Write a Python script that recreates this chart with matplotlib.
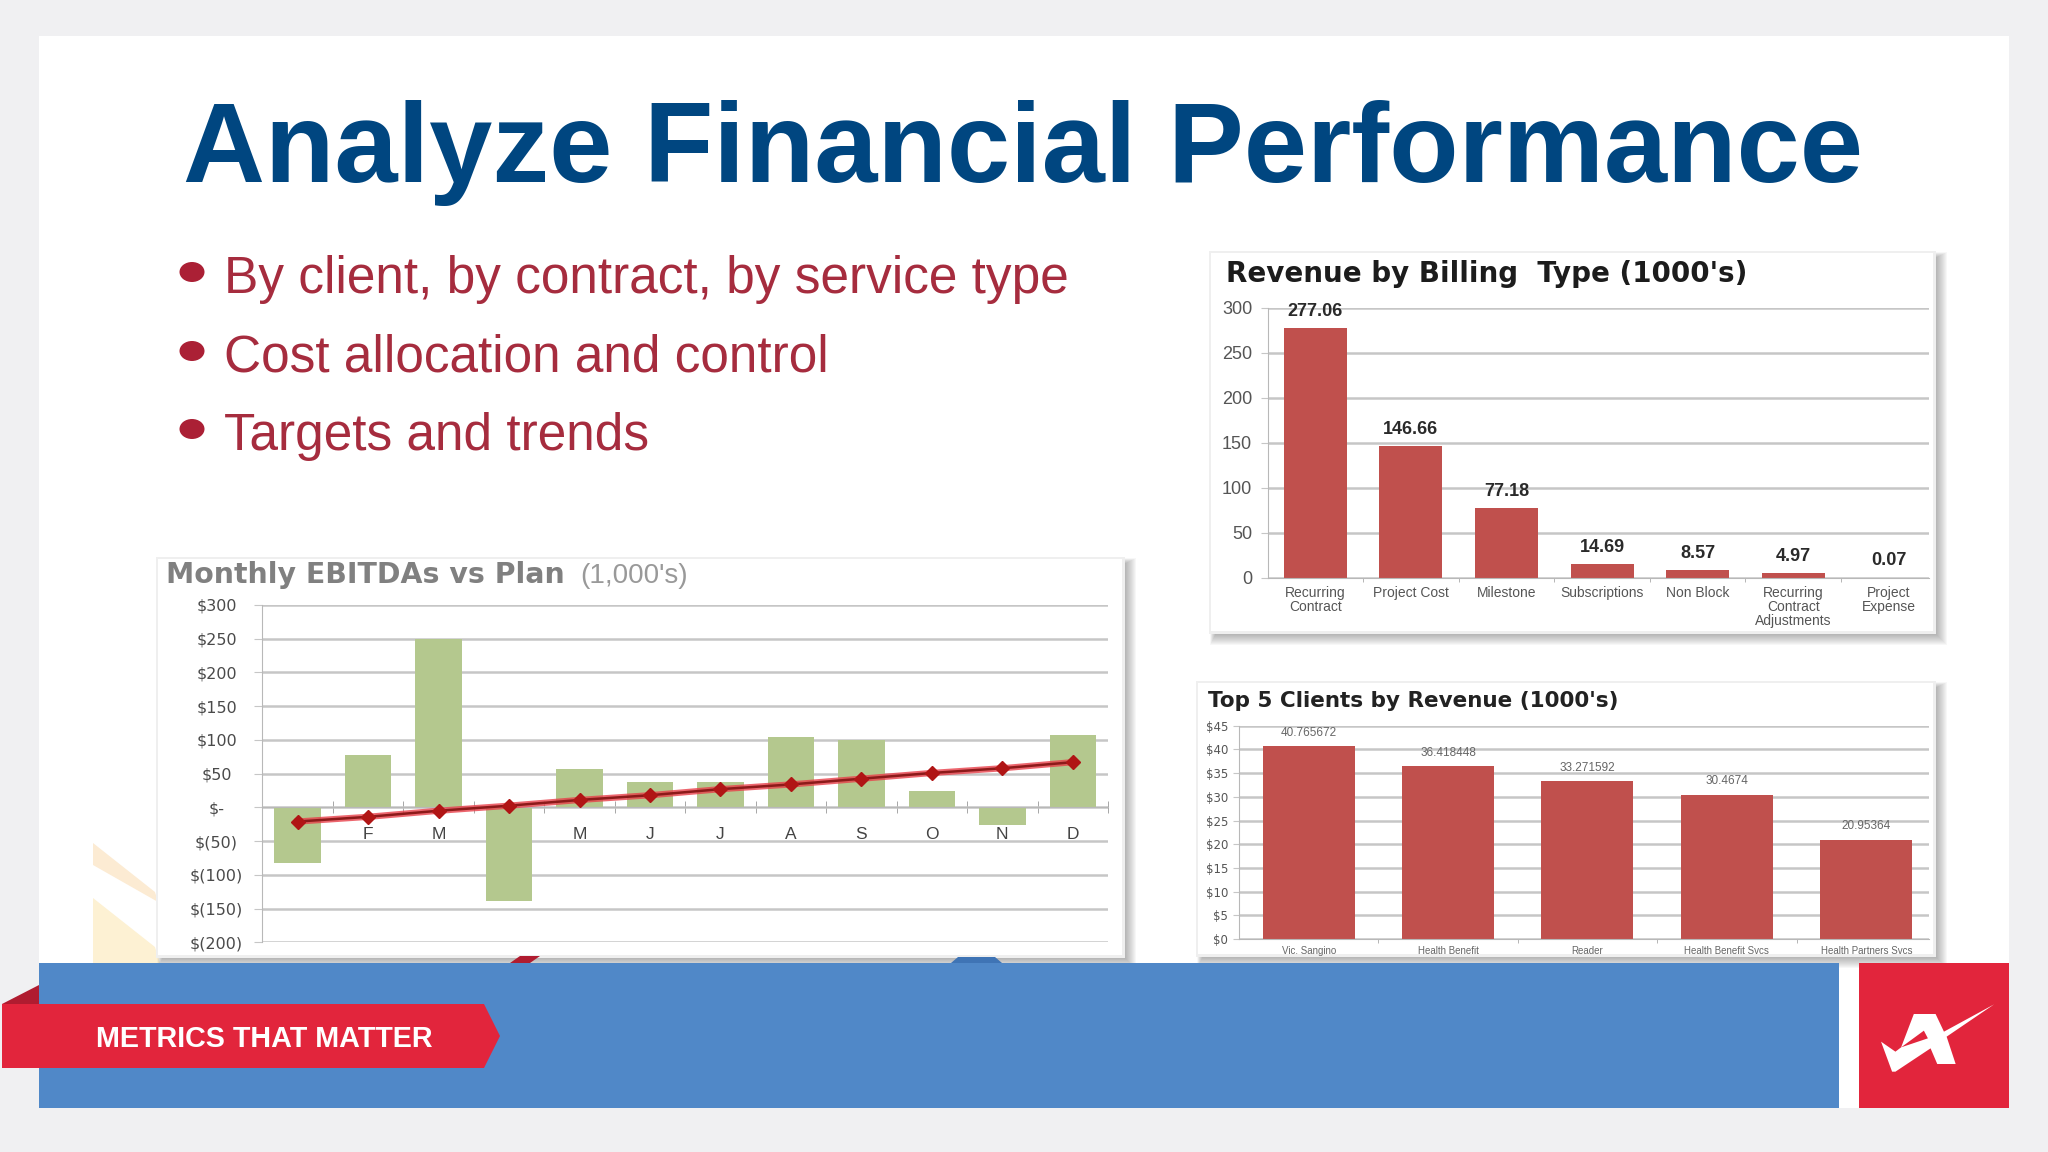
import matplotlib
matplotlib.use("Agg")
import matplotlib.pyplot as plt
from matplotlib.patches import Rectangle, Polygon, Ellipse

W, H = 2048, 1152

months = ["J", "F", "M", "A", "M", "J", "J", "A", "S", "O", "N", "D"]
ebitda = [-82, 77, 249, -139, 57, 37, 37, 104, 100, 24, -26, 107]
plan = [-21, -14, -5, 2.5, 11, 18, 27, 34, 42.5, 51, 58, 67]
ebitda_ticks = [300, 250, 200, 150, 100, 50, 0, -50, -100, -150, -200]
ebitda_labels = ["$300", "$250", "$200", "$150", "$100", "$50", "$-", "$(50)", "$(100)", "$(150)", "$(200)"]

billing_types = ["Recurring\nContract", "Project Cost", "Milestone", "Subscriptions", "Non Block",
                 "Recurring\nContract\nAdjustments", "Project\nExpense"]
billing_rev = [277.06, 146.66, 77.18, 14.69, 8.57, 4.97, 0.07]
billing_ticks = [0, 50, 100, 150, 200, 250, 300]

clients = ["Vic. Sangino", "Health Benefit", "Reader", "Health Benefit Svcs", "Health Partners Svcs"]
client_rev = [40.765672, 36.418448, 33.271592, 30.4674, 20.95364]
client_text = ["40.765672", "36.418448", "33.271592", "30.4674", "20.95364"]
client_ticks = [0, 5, 10, 15, 20, 25, 30, 35, 40, 45]

bullets = ["By client, by contract, by service type", "Cost allocation and control", "Targets and trends"]

SANS = "Liberation Sans"
WIDE = "DejaVu Sans"
GREY_BG = "#f0f0f2"
RED = "#e2253c"
BLUE = "#5088c8"
BAR_RED = "#c0504d"
GRID = "#c6c6c6"

fig = plt.figure(figsize=(W / 100, H / 100), dpi=100, facecolor=GREY_BG)
bg = fig.add_axes([0, 0, 1, 1], zorder=0)
bg.set_xlim(0, W)
bg.set_ylim(H, 0)
bg.axis("off")


def box(x0, y0, x1, y1, color, z=1, **kw):
    bg.add_patch(Rectangle((x0, y0), x1 - x0, y1 - y0, facecolor=color, edgecolor="none", zorder=z, **kw))


def shape(points, color, z=1):
    bg.add_patch(Polygon(points, facecolor=color, edgecolor="none", zorder=z))


def panel(x0, y0, x1, y1):
    # soft shadow, a stack of see-through boxes
    for i in range(13):
        box(x0 + 5 - i // 2, y0 + 5 - i // 2, x1 + i, y1 + i, "#303030", z=2, alpha=0.035)
    box(x0 - 2, y0 - 2, x1 + 1, y1 + 1, "#efefef", z=3)
    box(x0, y0, x1 - 2, y1 - 2, "white", z=3)


def chart_axes(x0, y_top, x1, y_bottom):
    ax = fig.add_axes([x0 / W, 1 - y_bottom / H, (x1 - x0) / W, (y_bottom - y_top) / H], zorder=2)
    ax.patch.set_alpha(0)
    for side in ["top", "right"]:
        ax.spines[side].set_visible(False)
    ax.set_axisbelow(True)
    ax.grid(axis="y", color=GRID, lw=1.8)
    ax.spines["left"].set_color("#b8b8b8")
    ax.spines["bottom"].set_color("#b8b8b8")
    return ax


# page
box(39, 36, 2009, 1108, "white")

# pale stripes behind the ebitda chart
shape([(93, 843), (155, 892), (158, 902), (93, 865)], "#fcebd3")
shape([(93, 898), (155, 947), (160, 963), (93, 963)], "#fdf1d3")

panel(158, 559, 1124, 957)
panel(1211, 253, 1935, 633)
panel(1198, 683, 1935, 956)

# footer band
box(39, 963, 1839, 1108, BLUE, z=5)
shape([(510, 963), (520, 956), (540, 956), (530, 963)], "#b01c30", z=4)
shape([(951, 963), (958, 957), (995, 957), (1002, 963)], "#3f74b5", z=4)
shape([(2, 1004), (39, 985), (39, 1004)], "#b01c30", z=6)
shape([(2, 1004), (484, 1004), (500, 1036), (484, 1068), (2, 1068)], RED, z=6)
bg.text(96, 1047, "METRICS THAT MATTER", color="white", fontsize=20.7, fontweight="bold",
        family=SANS, ha="left", va="baseline", zorder=7)

# logo
box(1859, 963, 2009, 1108, RED, z=5)
lx = lambda v: 1780 + v * 268 / 801
ly = lambda v: 940 + v / 3
logo = [(302, 305), (345, 335), (362, 322), (400, 222), (465, 222), (490, 275), (640, 193), (498, 290),
        (525, 372), (470, 372), (450, 325), (345, 395), (335, 395)]
shape([(lx(a), ly(b)) for a, b in logo], "white", z=6)
notch = [(362, 322), (430, 272), (442, 295)]
shape([(lx(a), ly(b)) for a, b in notch], RED, z=7)

# heading and bullets
bg.text(183, 182, "Analyze Financial Performance", color="#004680", fontsize=81.8, fontweight="bold",
        family=SANS, ha="left", va="baseline", zorder=4)
for text, yb in zip(bullets, [293, 372, 450]):
    bg.add_patch(Ellipse((192, yb - 21), 25, 20, facecolor="#ab2035", edgecolor="none", zorder=4))
    bg.text(224, yb, text, color="#a62c3e", fontsize=37, family=SANS, ha="left", va="baseline", zorder=4)

# panel titles
bg.text(166, 583, "Monthly EBITDAs vs Plan", color="#808080", fontsize=20.4, fontweight="bold",
        family=WIDE, ha="left", va="baseline", zorder=4)
bg.text(580, 583, "(1,000's)", color="#999999", fontsize=20, family=SANS, ha="left", va="baseline", zorder=4)
bg.text(1226, 282, "Revenue by Billing  Type (1000's)", color="#1c1c1c", fontsize=20, fontweight="bold",
        family=WIDE, ha="left", va="baseline", zorder=4)
bg.text(1208, 707, "Top 5 Clients by Revenue (1000's)", color="#222222", fontsize=15.5, fontweight="bold",
        family=WIDE, ha="left", va="baseline", zorder=4)

# monthly ebitda
ax1 = chart_axes(262.4, 605, 1108, 942.3)
pos = list(range(12))
ax1.bar(pos, ebitda, width=0.66, color="#b4c88e", zorder=2)
ax1.plot(pos, plan, color="#e8404a", lw=4.5, alpha=0.8, zorder=3)
ax1.plot(pos, plan, color="#8c1a1a", lw=1.8, marker="D", ms=7.5, mfc="#b01515", mec="#b01515", zorder=4)
ax1.spines["bottom"].set_position(("data", 0))
ax1.set_yticks(ebitda_ticks, ebitda_labels, fontsize=11.5, color="#4a4a4a", ha="center", family=WIDE)
ax1.tick_params(axis="y", length=6, color=GRID, pad=27)
ax1.set_xticks(pos, months, fontsize=12.5, color="#444444", family=SANS)
ax1.set_xticks([p - 0.5 for p in pos] + [11.5], minor=True)
ax1.tick_params(axis="x", which="major", length=0, pad=14)
ax1.tick_params(axis="x", which="minor", length=9, direction="inout", color="#999999")
ax1.set_xlim(-0.5, 11.5)
ax1.set_ylim(-200, 300)

# revenue by billing type
ax2 = chart_axes(1267.5, 307.7, 1929, 577.7)
pos = list(range(len(billing_rev)))
ax2.bar(pos, billing_rev, width=0.66, color=BAR_RED, zorder=2)
ax2.set_yticks(billing_ticks, billing_ticks, fontsize=13, color="#555555", family=SANS)
ax2.set_xticks(pos, billing_types, fontsize=10, color="#555555", family=SANS, linespacing=1.0)
ax2.set_xticks([p + 0.5 for p in pos], minor=True)
ax2.tick_params(axis="x", which="major", length=0, pad=6)
ax2.tick_params(axis="x", which="minor", length=3, color="#aaaaaa")
ax2.tick_params(axis="y", length=5, color=GRID, pad=6)
ax2.set_xlim(-0.5, 6.42)
ax2.set_ylim(0, 300)
for p, v in zip(pos, billing_rev):
    ax2.annotate(f"{v:.2f}", (p, v), xytext=(0, 12), textcoords="offset points", ha="center", va="center",
                 fontsize=13, fontweight="bold", color="#2a2a2a", family=SANS, zorder=5)

# top 5 clients
ax3 = chart_axes(1239, 725.7, 1929, 939)
pos = list(range(len(client_rev)))
ax3.bar(pos, client_rev, width=0.66, color=BAR_RED, zorder=2)
ax3.set_yticks(client_ticks, [f"${t}" for t in client_ticks], fontsize=8.5, color="#555555", family=WIDE)
ax3.set_xticks(pos, clients, fontsize=7, color="#666666", family=SANS)
ax3.set_xticks([p + 0.5 for p in pos], minor=True)
ax3.tick_params(axis="x", which="major", length=0, pad=5)
ax3.tick_params(axis="x", which="minor", length=3, color="#aaaaaa")
ax3.tick_params(axis="y", length=4, color=GRID, pad=4)
ax3.set_xlim(-0.5, 4.45)
ax3.set_ylim(0, 45)
for p, v, t in zip(pos, client_rev, client_text):
    ax3.annotate(t, (p, v), xytext=(0, 9.5), textcoords="offset points",
                 ha="center", va="center", fontsize=8.5, color="#666666", family=SANS, zorder=5)

fig.savefig("out.png", dpi=100, facecolor=fig.get_facecolor())
